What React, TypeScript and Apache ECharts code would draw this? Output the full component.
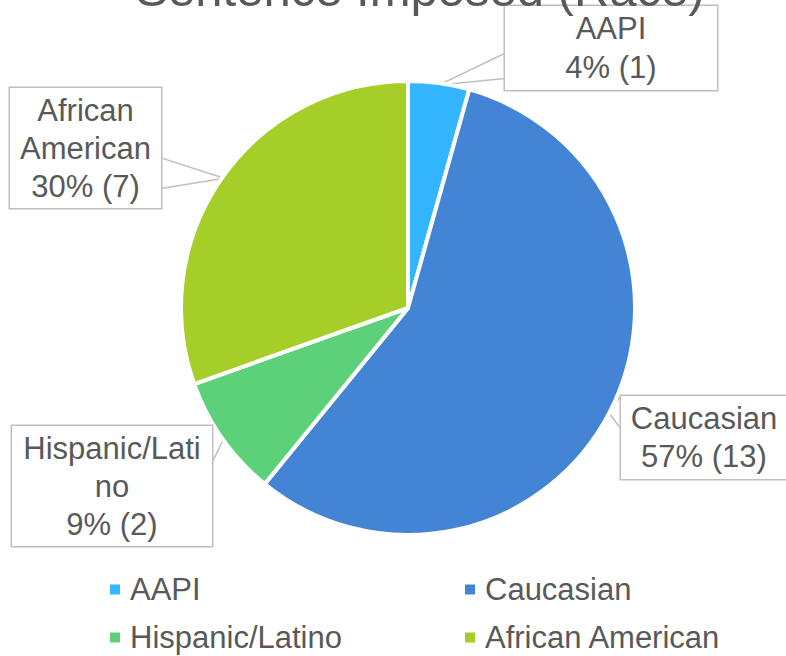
import React, { useEffect, useRef } from 'react';
import * as echarts from 'echarts';

const titleText = 'Sentence Imposed (Race)';
const categories = ['AAPI', 'Caucasian', 'Hispanic/Latino', 'African American'];
const counts = [1, 13, 2, 7];
const labelNames = ['AAPI', 'Caucasian', 'Hispanic/Lati\nno', 'African\nAmerican'];
const colors = ['#33B6FF', '#4484D4', '#5CD17A', '#A5CE28'];

const FONT = '"Liberation Sans", Arial, Helvetica, sans-serif';
const TEXT = '#595959';
const GRID = '#BFBFBF';

const CX = 408;
const CY = 308;
const R = 227;

// callout boxes: centre, content width, padding [top, bottom], pointer side, attach fractions
const labelBoxes = [
  { cx: 611, cy: 48, w: 212, pad: [6, 0], lh: 39, side: 'left', f: [0.56, 0.85] },
  { cx: 704, cy: 437.5, w: 166, pad: [7, 0], lh: 38, side: 'left', f: [0.02, 0.4] },
  { cx: 112, cy: 486, w: 200, pad: [5, 1], lh: 38, side: 'right', f: [0.02, 0.31] },
  { cx: 85.5, cy: 148, w: 151, pad: [6, 0], lh: 38, side: 'right', f: [0.58, 0.83] },
];

export default function App() {
  const ref = useRef<HTMLDivElement>(null);
  useEffect(() => {
    if (!ref.current) return;
    const chart = echarts.init(ref.current, undefined, { renderer: 'svg' });
    const total = counts.reduce((a, b) => a + b, 0);
    const cum: number[] = [];
    let acc = 0;
    counts.forEach((v) => {
      cum.push(acc);
      acc += v;
    });
    const data = categories.map((name, i) => ({
      name,
      value: counts[i],
      itemStyle: { color: colors[i] },
      label: {
        width: labelBoxes[i].w,
        lineHeight: labelBoxes[i].lh,
        padding: [labelBoxes[i].pad[0], 0, labelBoxes[i].pad[1], 0],
      },
    }));
    chart.setOption({
      animation: false,
      title: {
        text: titleText,
        left: 420,
        top: -36,
        textAlign: 'center',
        padding: 0,
        textStyle: { fontFamily: FONT, fontSize: 49, fontWeight: 'normal', color: TEXT, lineHeight: 49 },
      },
      legend: {
        data: categories,
        left: 108,
        top: 567,
        width: 720,
        padding: 0,
        icon: 'rect',
        itemWidth: 12,
        itemHeight: 12,
        itemGap: 3,
        textStyle: {
          fontFamily: FONT,
          fontSize: 31,
          color: TEXT,
          width: 330,
          lineHeight: 45,
          padding: [0, 0, 0, 4],
        },
      },
      series: [
        {
          type: 'pie',
          center: [CX, CY],
          radius: R,
          startAngle: 90,
          clockwise: true,
          percentPrecision: 0,
          itemStyle: { borderColor: '#ffffff', borderWidth: 4 },
          label: {
            show: true,
            position: 'outside',
            formatter: (p: any) => `${labelNames[p.dataIndex]}\n${p.percent}% (${p.value})`,
            fontFamily: FONT,
            fontSize: 31,
            color: TEXT,
            align: 'center',
            backgroundColor: '#ffffff',
            borderColor: GRID,
            borderWidth: 1.5,
          },
          labelLine: { show: true, lineStyle: { color: GRID, width: 1.5 } },
          labelLayout: (p: any) => {
            const i = p.dataIndex;
            const b = labelBoxes[i];
            const h = p.labelRect.height;
            const top = b.cy - h / 2;
            const ex = b.side === 'left' ? b.cx - b.w / 2 : b.cx + b.w / 2;
            const mid = (cum[i] + counts[i] / 2) / total;
            const ang = Math.PI / 2 - mid * Math.PI * 2;
            const tip = [CX + (R - 2) * Math.cos(ang), CY - (R - 2) * Math.sin(ang)];
            return {
              x: b.cx,
              y: b.cy,
              align: 'center',
              verticalAlign: 'middle',
              labelLinePoints: [
                [ex, top + b.f[0] * h],
                tip,
                [ex, top + b.f[1] * h],
              ],
            };
          },
          data,
        },
      ],
    });
    return () => chart.dispose();
  }, []);
  return (
    <div
      ref={ref}
      style={{ position: 'fixed', left: 0, top: 0, width: 786, height: 656, background: '#ffffff' }}
    />
  );
}
